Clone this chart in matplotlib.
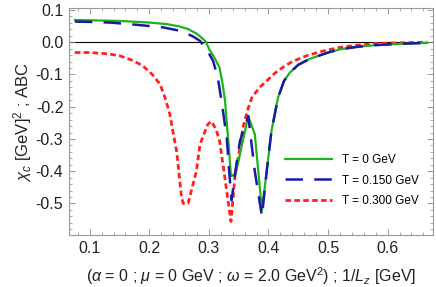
import numpy as np
import matplotlib
matplotlib.use("Agg")
import matplotlib.pyplot as plt
from matplotlib.ticker import MultipleLocator, FormatStrFormatter

plt.rcParams["font.family"] = ["Liberation Sans", "DejaVu Sans"]
plt.rcParams["mathtext.fontset"] = "custom"
plt.rcParams["mathtext.rm"] = "Liberation Sans"
plt.rcParams["mathtext.it"] = "Liberation Sans:italic"
plt.rcParams["axes.unicode_minus"] = True

# ── data ──────────────────────────────────────────────────────────────────────
x_t0 = [0.075, 0.10, 0.15, 0.20, 0.23, 0.25, 0.265, 0.28, 0.29, 0.295, 0.30,
        0.31, 0.318, 0.323, 0.327, 0.334, 0.337, 0.345, 0.366, 0.377, 0.389,
        0.397, 0.405, 0.416, 0.426, 0.436, 0.45, 0.47, 0.50, 0.52, 0.55,
        0.58, 0.62, 0.666]
y_t0 = [0.069, 0.068, 0.066, 0.061, 0.056, 0.049, 0.041, 0.026, 0.010,
        0.001, -0.02, -0.05, -0.08, -0.13, -0.18, -0.34, -0.415, -0.408,
        -0.229, -0.285, -0.52, -0.40, -0.275, -0.172, -0.12, -0.094, -0.07,
        -0.051, -0.032, -0.022, -0.014, -0.009, -0.005, -0.002]

x_t150 = [0.075, 0.10, 0.134, 0.179, 0.223, 0.25, 0.26, 0.275, 0.285, 0.29,
          0.296, 0.307, 0.315, 0.321, 0.33, 0.334, 0.338, 0.346, 0.352,
          0.366, 0.377, 0.389, 0.397, 0.405, 0.416, 0.426, 0.436, 0.45,
          0.47, 0.50, 0.52, 0.55, 0.58, 0.62, 0.666]
y_t150 = [0.064, 0.063, 0.061, 0.054, 0.046, 0.036, 0.030, 0.016, 0.004,
          -0.008, -0.021, -0.058, -0.11, -0.18, -0.297, -0.40, -0.49, -0.38,
          -0.307, -0.229, -0.40, -0.54, -0.40, -0.275, -0.172, -0.12, -0.094,
          -0.07, -0.051, -0.032, -0.022, -0.014, -0.009, -0.005, -0.002]

x_t300 = [0.075, 0.10, 0.13, 0.15, 0.17, 0.189, 0.205, 0.218, 0.226, 0.234,
          0.240, 0.246, 0.254, 0.257, 0.265, 0.272, 0.279, 0.285, 0.298,
          0.304, 0.312, 0.318, 0.326, 0.337, 0.344, 0.352, 0.357, 0.365,
          0.372, 0.385, 0.397, 0.41, 0.424, 0.44, 0.464, 0.49, 0.52, 0.55,
          0.58, 0.62, 0.666]
y_t300 = [-0.032, -0.032, -0.036, -0.042, -0.055, -0.073, -0.10, -0.13,
          -0.17, -0.22, -0.28, -0.34, -0.48, -0.50, -0.50, -0.45, -0.40,
          -0.317, -0.255, -0.245, -0.27, -0.307, -0.41, -0.556, -0.41,
          -0.328, -0.265, -0.21, -0.172, -0.14, -0.12, -0.097, -0.078,
          -0.06, -0.042, -0.028, -0.016, -0.009, -0.004, -0.002, 0.0]

labels = ["T = 0 GeV", "T = 0.150 GeV", "T = 0.300 GeV"]

# ── figure ────────────────────────────────────────────────────────────────────
fig = plt.figure(figsize=(4.36, 2.87), dpi=100)
ax = fig.add_axes([0.158, 0.181, 0.835, 0.791])

ax.axhline(0, color="black", linewidth=0.8, zorder=1)
ax.plot(x_t0, y_t0, color="#1db31d", linewidth=1.6, label=labels[0], zorder=3)
ax.plot(x_t150, y_t150, color="#1a1aa6", linewidth=1.8, dashes=(7, 4.5),
        label=labels[1], zorder=4)
ax.plot(x_t300, y_t300, color="#ff2020", linewidth=2.0, dashes=(2.0, 1.2),
        label=labels[2], zorder=2)

ax.set_xlim(0.065, 0.676)
ax.set_ylim(-0.598, 0.106)
ax.xaxis.set_major_locator(MultipleLocator(0.1))
ax.xaxis.set_minor_locator(MultipleLocator(0.02))
ax.yaxis.set_major_locator(MultipleLocator(0.1))
ax.yaxis.set_minor_locator(MultipleLocator(0.02))
ax.xaxis.set_major_formatter(FormatStrFormatter("%.1f"))
ax.yaxis.set_major_formatter(FormatStrFormatter("%.1f"))
ax.tick_params(which="both", direction="in", top=True, right=True,
               color="#888888", labelsize=11.5, labelcolor="#222222")
ax.tick_params(which="major", length=4.5, width=0.6, pad=4)
ax.tick_params(which="minor", length=2.5, width=0.5)
for s in ax.spines.values():
    s.set_color("#999999")
    s.set_linewidth(0.8)

ax.set_xlabel(r"($\alpha$ = 0 ; $\mu$ = 0 GeV ; $\omega$ = 2.0 GeV$^2$) ; 1/$L_z$ [GeV]",
              fontsize=11.5, color="#222222", labelpad=7)
ax.set_ylabel(r"$\chi_c$ [GeV]$^2$ ; ABC", fontsize=12, color="#222222",
              labelpad=1)

ax.legend(loc="center right", bbox_to_anchor=(0.99, 0.24), frameon=False,
          fontsize=8.5, handlelength=4.0, labelspacing=0.75, handletextpad=0.8)

fig.savefig("out.png", dpi=100)
